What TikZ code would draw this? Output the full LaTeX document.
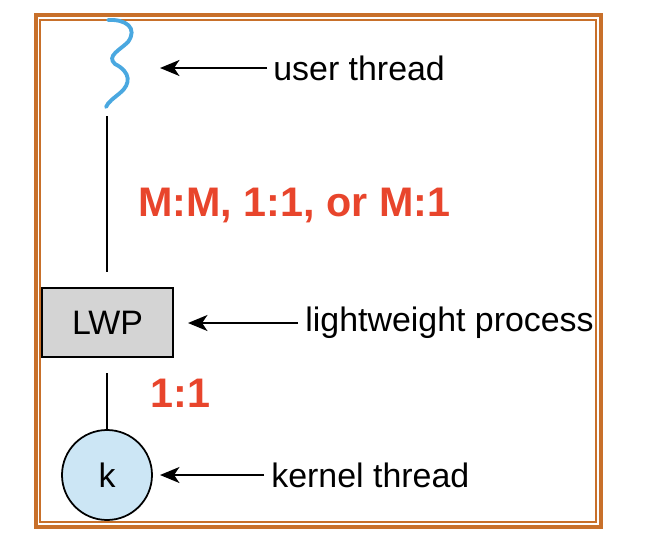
\documentclass[tikz,border=0pt]{standalone}
\usepackage{fontspec}
\setmainfont{Liberation Sans}
\usepackage{xcolor}
\usetikzlibrary{arrows.meta}
\definecolor{framecol}{HTML}{C8702A}
\definecolor{threadblue}{HTML}{4AA8E0}
\definecolor{kernelblue}{HTML}{CCE6F5}
\definecolor{mapred}{HTML}{E8452C}
\begin{document}
\begin{tikzpicture}[x=0.02cm,y=-0.02cm,
    label/.style={anchor=west,inner sep=0pt,font=\fontsize{19.3}{22}\selectfont},
    ratio/.style={anchor=west,inner sep=0pt,text=mapred,font=\fontsize{23.5}{27}\selectfont\bfseries},
    pointer/.style={line width=1.6pt,-{Stealth[length=11pt,width=9pt,inset=3pt]}},
    link/.style={line width=1.6pt}]
    \useasboundingbox (0,0) rectangle (657,542);
    % double frame
    \draw[framecol,line width=1.8pt] (36,15) rectangle (601,527);
    \draw[framecol,line width=1.2pt] (40,20) rectangle (596,522);
    % user thread
    \draw[threadblue,line width=2.2pt,line cap=round]
      (108,20) .. controls (126,19) and (138,28) .. (128,42)
      .. controls (120,50) and (106,56) .. (115,64)
      .. controls (131,72) and (131,84) .. (120,93)
      .. controls (114,98) and (108,102) .. (106,107);
    \coordinate (uthread) at (160,68);
    \node[label] (ulabel) at (273,68) {user thread};
    \draw[pointer] (ulabel.west) ++(-6,0) -- (uthread);
    % lightweight process
    \node[draw,line width=0.8pt,fill=black!17,minimum width=131*0.02cm,minimum height=69*0.02cm,
      font=\fontsize{19.3}{22}\selectfont] (lwp) at (107.5,322.5) {LWP};
    \coordinate (utop) at (107,116);
    \draw[link] (utop) -- (107,272);
    \node[label] (llabel) at (305,323) {lightweight process};
    \coordinate (lwptip) at (188,323);
    \draw[pointer] (llabel.west) ++(-7,0) -- (lwptip);
    % kernel thread
    \node[circle,draw,line width=1pt,fill=kernelblue,minimum size=90*0.02cm,
      font=\fontsize{19.3}{22}\selectfont] (kthread) at (107,475) {k};
    \draw[link] (107,373) -- (kthread.north);
    \node[label] (klabel) at (271,475) {kernel thread};
    \coordinate (ktip) at (160,475);
    \draw[pointer] (klabel.west) ++(-7,0) -- (ktip);
    % mappings
    \node[ratio] (manymap) at (138,205) {M:M, 1:1, or M:1};
    \node[ratio] (onemap) at (150,393) {1:1};
  \end{tikzpicture}
\end{document}
